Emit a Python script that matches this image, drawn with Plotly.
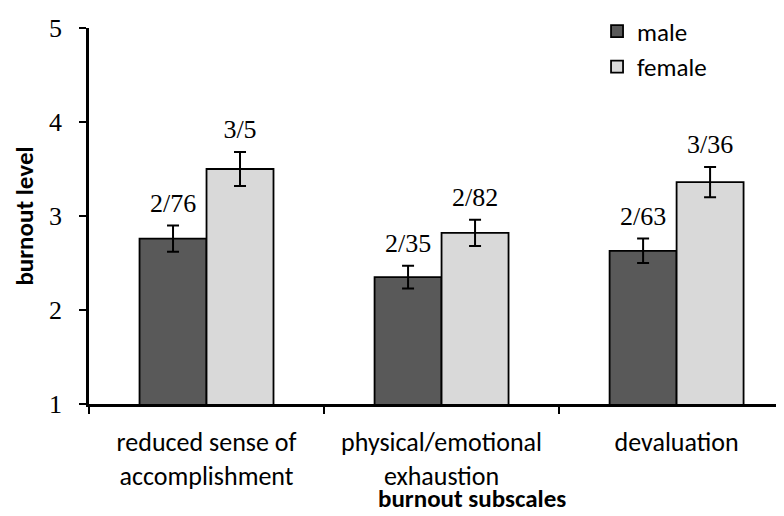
import plotly.graph_objects as go

categories = ["reduced sense of<br>accomplishment", "physical/emotional<br>exhaustion", "devaluation"]
male_values = [2.76, 2.35, 2.63]
female_values = [3.50, 2.82, 3.36]
male_err = [0.14, 0.12, 0.13]
female_err = [0.18, 0.14, 0.16]
male_labels = ["2/76", "2/35", "2/63"]
female_labels = ["3/5", "2/82", "3/36"]
y_ticks = [1, 2, 3, 4, 5]

SERIF = "Liberation Serif, Times New Roman, serif"
SANS = "Carlito, Open Sans, sans-serif"

fig = go.Figure()
fig.add_trace(go.Bar(
    x=categories, y=male_values, name="male", offsetgroup="m", legendgroup="m",
    marker=dict(color="#595959", line=dict(color="black", width=1.8)),
    error_y=dict(type="data", array=male_err, color="black", thickness=2, width=6),
))
fig.add_trace(go.Bar(
    x=categories, y=female_values, name="female", offsetgroup="f", legendgroup="f",
    marker=dict(color="#d9d9d9", line=dict(color="black", width=1.8)),
    error_y=dict(type="data", array=female_err, color="black", thickness=2, width=6),
))
fig.add_trace(go.Scatter(
    x=categories, y=[v + e for v, e in zip(male_values, male_err)], offsetgroup="m",
    mode="markers+text", text=male_labels, textposition="top center",
    marker=dict(size=10, color="rgba(0,0,0,0)"), showlegend=False, hoverinfo="skip",
    textfont=dict(family=SERIF, size=26, color="black"),
))
fig.add_trace(go.Scatter(
    x=categories, y=[v + e for v, e in zip(female_values, female_err)], offsetgroup="f",
    mode="markers+text", text=female_labels, textposition="top center",
    marker=dict(size=10, color="rgba(0,0,0,0)"), showlegend=False, hoverinfo="skip",
    textfont=dict(family=SERIF, size=26, color="black"),
))

fig.update_layout(
    width=776, height=508,
    margin=dict(l=81, r=0, t=13, b=112),
    paper_bgcolor="white", plot_bgcolor="white",
    barmode="group", bargap=0.43, bargroupgap=0,
    scattermode="group", scattergap=0.43,
    showlegend=True,
    legend=dict(x=0.731, y=1.052, xanchor="left", yanchor="top",
                font=dict(family=SANS, size=25, color="black"),
                bgcolor="rgba(0,0,0,0)", tracegroupgap=0, itemwidth=30),
    xaxis=dict(
        range=[-0.5, 2.457], showline=True, linecolor="black", linewidth=2.5,
        ticks="outside", tickson="boundaries", ticklen=7, tickwidth=2, tickcolor="black",
        tickfont=dict(family=SANS, size=26, color="black"), ticklabelstandoff=13,
        showgrid=False, zeroline=False,
    ),
    yaxis=dict(
        range=[1, 5], tickvals=y_ticks, showline=True, linecolor="black", linewidth=2.5,
        ticks="outside", ticklen=7, tickwidth=2, tickcolor="black",
        tickfont=dict(family=SERIF, size=26, color="black"), ticklabelstandoff=12,
        ticklabeloverflow="allow",
        showgrid=False, zeroline=False,
        title=dict(text="<b>burnout level</b>", font=dict(family=SANS, size=25, color="black"), standoff=9),
    ),
    annotations=[dict(
        text="<b>burnout subscales</b>", xref="paper", yref="paper", x=(472 - 89) / 695, y=-0.252,
        xanchor="center", yanchor="middle", showarrow=False,
        font=dict(family=SANS, size=25, color="black"),
    )],
)

fig.write_html("out.html")
